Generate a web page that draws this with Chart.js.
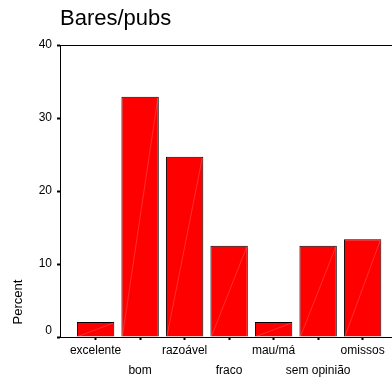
<!DOCTYPE html>
<html lang="pt">

<head>
    <meta charset="UTF-8">
    <meta name="viewport" content="width=device-width, initial-scale=1.0">
    <script src="https://cdn.jsdelivr.net/npm/chart.js"></script>
    <title>Bares/pubs</title>
    <style>
        body {
            margin: 0;
            background: #fff;
        }

        .grafico {
            position: relative;
            width: 392px;
            height: 383px;
        }
    </style>
</head>

<body>
    <div class="grafico">
        <canvas id="graficoBares"></canvas>
    </div>
</body>

<script>
    const categorias = ['excelente', 'bom', 'razoável', 'fraco', 'mau/má', 'sem opinião', 'omissos'];
    const percentagens = [2.05, 32.9, 24.7, 12.5, 2.05, 12.5, 13.4];
    const ticksY = [0, 10, 20, 30, 40];

    const fonte = '"Liberation Sans", Arial, sans-serif';
    Chart.defaults.color = '#000';
    Chart.defaults.font.family = fonte;

    // linha de cima do quadro e rótulo do eixo y
    const moldura = {
        id: 'moldura',
        afterDraw(chart) {
            const { ctx, chartArea } = chart;
            ctx.save();
            ctx.strokeStyle = '#000';
            ctx.lineWidth = 1;
            ctx.beginPath();
            ctx.moveTo(chartArea.left, chartArea.top + 0.5);
            ctx.lineTo(chartArea.right, chartArea.top + 0.5);
            ctx.stroke();

            ctx.translate(18, 302);
            ctx.rotate(-Math.PI / 2);
            ctx.font = '13px ' + fonte;
            ctx.textAlign = 'center';
            ctx.textBaseline = 'middle';
            ctx.fillStyle = '#000';
            ctx.fillText('Percent', 0, 0);
            ctx.restore();
        }
    };

    // risco diagonal claro dentro de cada barra
    const diagonais = {
        id: 'diagonais',
        afterDatasetsDraw(chart) {
            const ctx = chart.ctx;
            ctx.save();
            ctx.strokeStyle = 'rgba(255, 130, 130, 0.6)';
            ctx.lineWidth = 0.6;
            chart.getDatasetMeta(0).data.forEach(barra => {
                const { x, y, base, width } = barra.getProps(['x', 'y', 'base', 'width'], true);
                ctx.beginPath();
                ctx.moveTo(x - width / 2 + 1, base);
                ctx.lineTo(x + width / 2 - 1, y + 1);
                ctx.stroke();
            });
            ctx.restore();
        }
    };

    new Chart(document.getElementById('graficoBares'), {
        type: 'bar',
        data: {
            datasets: [{
                data: categorias.map((c, i) => ({ x: i, y: percentagens[i] })),
                backgroundColor: '#ff0000',
                borderColor: '#000',
                borderWidth: 1,
                barPercentage: 0.84,
                categoryPercentage: 1
            }]
        },
        options: {
            responsive: true,
            maintainAspectRatio: false,
            animation: false,
            layout: { padding: 0 },
            plugins: {
                legend: { display: false },
                tooltip: { enabled: false },
                title: {
                    display: true,
                    text: 'Bares/pubs',
                    align: 'start',
                    fullSize: false,
                    color: '#000',
                    font: { size: 22, weight: 'normal', family: fonte },
                    padding: { top: 6, bottom: 12.6 }
                }
            },
            scales: {
                x: {
                    type: 'linear',
                    offset: false,
                    min: -0.8,
                    max: 6.66,
                    afterBuildTicks: escala => {
                        escala.ticks = categorias.map((c, i) => ({ value: i }));
                    },
                    afterFit: escala => { escala.height = 46; },
                    grid: {
                        offset: false,
                        drawOnChartArea: false,
                        drawTicks: true,
                        tickLength: 3,
                        tickWidth: 2,
                        tickColor: '#000'
                    },
                    border: { display: true, color: '#000', width: 1 },
                    ticks: {
                        autoSkip: false,
                        maxRotation: 0,
                        padding: 0,
                        font: { size: 12, lineHeight: 1.725 },
                        callback: valor => {
                            const rotulo = categorias[valor];
                            return valor % 2 === 1 ? ['', rotulo] : rotulo;
                        }
                    }
                },
                y: {
                    min: 0,
                    max: 40,
                    afterBuildTicks: escala => {
                        escala.ticks = ticksY.map(v => ({ value: v }));
                    },
                    afterFit: escala => { escala.width = 60; },
                    grid: {
                        drawOnChartArea: false,
                        drawTicks: true,
                        tickLength: 3,
                        tickWidth: 2,
                        tickColor: '#000'
                    },
                    border: { display: true, color: '#000', width: 1 },
                    ticks: {
                        padding: 5,
                        font: { size: 12, lineHeight: 1 },
                        callback: valor => valor === 0 ? ['0', ''] : valor
                    }
                }
            }
        },
        plugins: [moldura, diagonais]
    });
</script>

</html>
